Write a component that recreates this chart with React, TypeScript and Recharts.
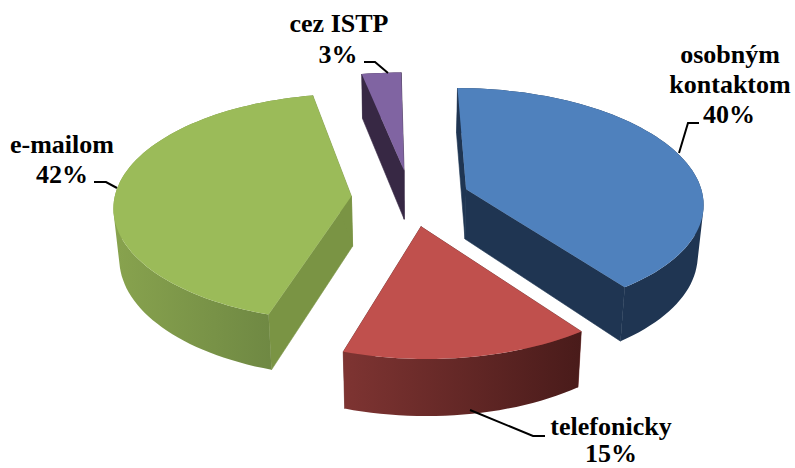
import React from 'react';
import { PieChart, Pie, Cell } from 'recharts';

const categories = ['osobným kontaktom', 'telefonicky', 'e-mailom', 'cez ISTP'];
const values = [40, 15, 42, 3];

const topColors = ['#4F81BD', '#C0504D', '#9BBB59', '#8064A2'];
const wallColors = ['#1F3552', '#6E2E2C', '#7A9444', '#372844'];
const rimFrom = ['#1F3552', '#7E3432', '#88A34E', '#372844'];
const rimTo = ['#1F3552', '#491B1A', '#688140', '#372844'];

// label text lines and leader lines, in chart pixels
const labelLines = [
  [{ t: 'osobným', x: 730, y: 63 }, { t: 'kontaktom', x: 730, y: 93 }, { t: '40%', x: 729, y: 123 }],
  [{ t: 'telefonicky', x: 611, y: 435 }, { t: '15%', x: 611, y: 462 }],
  [{ t: 'e-mailom', x: 62, y: 153 }, { t: '42%', x: 62, y: 183 }],
  [{ t: 'cez ISTP', x: 339, y: 32 }, { t: '3%', x: 338, y: 63 }],
];
const leaders = [
  '679,153 688,123 699,123',
  '470,410 533,436 545,436',
  '117,188 106,182 94,182',
  '388,73 375,62 364,62',
];

const data = categories.map((name, i) => ({ name, value: values[i] }));

// fake 3D: project the flat pie onto a tilted plane
const CX = 410.5;
const CY = 198;
const SCALE_X = 237;
const SCALE_Y = 113;
const PERSPECTIVE = 0.1;
const SHEAR = 0.035;
const DEPTH = 50;
const BOTTOM_NARROW = 0.98;
const EXPLODE = 0.25;

const project = (u: number, v: number, down = 0) => {
  const w = 1 + PERSPECTIVE * v;
  const gy = -(SCALE_Y * v) / w;
  const gx = (SCALE_X * u) / w * (down ? BOTTOM_NARROW : 1);
  return [CX + gx + SHEAR * gy, CY + gy + (down * DEPTH) / w];
};

const pathOf = (pts: number[][]) =>
  'M' + pts.map((p) => `${p[0].toFixed(1)},${p[1].toFixed(1)}`).join('L') + 'Z';

// every quad gets the same winding so the rim fills as one solid shape
const rimPath = (top: number[][], bottom: number[][]) => {
  let d = '';
  for (let i = 0; i < top.length - 1; i++) {
    const q = [top[i], top[i + 1], bottom[i + 1], bottom[i]];
    let area = 0;
    q.forEach((p, j) => {
      const r = q[(j + 1) % 4];
      area += p[0] * r[1] - r[0] * p[1];
    });
    d += pathOf(area > 0 ? q : [...q].reverse());
  }
  return d;
};

const Slice3D = (props: any) => {
  const { startAngle, endAngle, index } = props;
  const a0 = 90 - startAngle;
  const a1 = 90 - endAngle;
  const mid = (((a0 + a1) / 2) * Math.PI) / 180;
  const ou = EXPLODE * Math.sin(mid);
  const ov = EXPLODE * Math.cos(mid);

  const arc: number[][] = [];
  const n = Math.max(4, Math.ceil(Math.abs(a1 - a0) / 2));
  for (let i = 0; i <= n; i++) {
    const th = ((a0 + ((a1 - a0) * i) / n) * Math.PI) / 180;
    arc.push([ou + Math.sin(th), ov + Math.cos(th)]);
  }
  const top = arc.map((p) => project(p[0], p[1]));
  const bottom = arc.map((p) => project(p[0], p[1], 1));
  const apexTop = project(ou, ov);
  const apexBottom = project(ou, ov, 1);
  const gradId = `rim-${index}`;
  const xs = [...top, ...bottom].map((p) => p[0]);

  return (
    <g>
      <defs>
        <linearGradient
          id={gradId}
          gradientUnits="userSpaceOnUse"
          x1={Math.min(...xs)}
          y1={0}
          x2={Math.max(...xs)}
          y2={0}
        >
          <stop offset="0%" stopColor={rimFrom[index]} />
          <stop offset="100%" stopColor={rimTo[index]} />
        </linearGradient>
      </defs>
      <path
        d={pathOf([apexTop, top[0], bottom[0], apexBottom])}
        fill={wallColors[index]}
        stroke={wallColors[index]}
        strokeWidth={0.6}
      />
      <path
        d={pathOf([apexTop, top[n], bottom[n], apexBottom])}
        fill={wallColors[index]}
        stroke={wallColors[index]}
        strokeWidth={0.6}
      />
      <path d={rimPath(top, bottom)} fill={`url(#${gradId})`} />
      <path d={pathOf([apexTop, ...top])} fill={topColors[index]} />
    </g>
  );
};

const renderLabel = (props: any) => {
  const { index } = props;
  return (
    <g key={index}>
      <polyline points={leaders[index]} fill="none" stroke="#000" strokeWidth={2} />
      {labelLines[index].map((l) => (
        <text
          key={l.t}
          x={l.x}
          y={l.y}
          textAnchor="middle"
          fontFamily="'Liberation Serif', serif"
          fontWeight="bold"
          fontSize={26}
          fill="#000"
        >
          {l.t}
        </text>
      ))}
    </g>
  );
};

export default function App() {
  return (
    <div style={{ position: 'absolute', left: 0, top: 0 }}>
      <PieChart width={795} height={468}>
        <Pie
          data={data}
          dataKey="value"
          nameKey="name"
          cx={CX}
          cy={CY}
          outerRadius={100}
          startAngle={90}
          endAngle={-270}
          stroke="none"
          shape={Slice3D}
          label={renderLabel}
          labelLine={false}
          isAnimationActive={false}
        >
          {data.map((d, i) => (
            <Cell key={d.name} fill={topColors[i]} />
          ))}
        </Pie>
      </PieChart>
    </div>
  );
}
